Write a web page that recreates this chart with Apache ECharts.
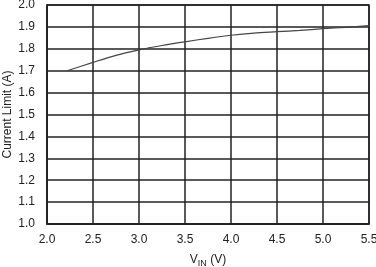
<!DOCTYPE html>
<html>
<head>
<meta charset="utf-8">
<script src="https://cdn.jsdelivr.net/npm/echarts@6/dist/echarts.min.js"></script>
<style>html,body{margin:0;padding:0;background:#fff}#c{width:376px;height:267px}</style>
</head>
<body>
<div id="c"></div>
<script>
var vin = [2.22, 2.5, 2.75, 3.0, 3.25, 3.5, 3.75, 4.0, 4.25, 4.5, 4.75, 5.0, 5.25, 5.5];
var currentLimit = [1.700, 1.738, 1.770, 1.795, 1.815, 1.832, 1.848, 1.862, 1.872, 1.878, 1.884, 1.892, 1.898, 1.906];
var xTicks = [2.0, 2.5, 3.0, 3.5, 4.0, 4.5, 5.0, 5.5];
var yTicks = [1.0, 1.1, 1.2, 1.3, 1.4, 1.5, 1.6, 1.7, 1.8, 1.9, 2.0];

var chart = echarts.init(document.getElementById('c'), null, {renderer: 'canvas'});
var font = 'Liberation Sans, Arial, sans-serif';
chart.setOption({
  animation: false,
  grid: {left: 47, right: 7, top: 5, bottom: 43, containLabel: false, outerBoundsMode: 'none', show: true, borderColor: '#222', borderWidth: 1.5},
  xAxis: {
    type: 'value', min: xTicks[0], max: xTicks[xTicks.length - 1], interval: 0.5,
    name: '{v|V}{s|IN}{v| (V)}', nameLocation: 'middle', nameGap: 28, nameMoveOverlap: false,
    nameTextStyle: {rich: {v: {fontFamily: font, fontSize: 12, color: '#222'}, s: {fontFamily: font, fontSize: 9, color: '#222', verticalAlign: 'bottom', padding: [7, 0, 0, 0]}}},
    axisLine: {show: true, lineStyle: {color: '#222', width: 1.5}},
    axisTick: {show: false},
    axisLabel: {margin: 10, fontFamily: font, fontSize: 12, color: '#222', formatter: function (v) { return v.toFixed(1); }},
    splitLine: {show: true, lineStyle: {color: '#222', width: 1.5}}
  },
  yAxis: {
    type: 'value', min: yTicks[0], max: yTicks[yTicks.length - 1], interval: 0.1,
    name: 'Current Limit (A)', nameLocation: 'middle', nameGap: 33, nameRotate: 90, nameMoveOverlap: false,
    nameTextStyle: {fontFamily: font, fontSize: 12, color: '#222'},
    axisLine: {show: true, lineStyle: {color: '#222', width: 1.5}},
    axisTick: {show: false},
    axisLabel: {margin: 12, fontFamily: font, fontSize: 12, color: '#222', formatter: function (v) { return v.toFixed(1); }},
    splitLine: {show: true, lineStyle: {color: '#222', width: 1.5}}
  },
  series: [{
    type: 'line', data: vin.map(function (x, i) { return [x, currentLimit[i]]; }),
    smooth: 0.3, showSymbol: false, lineStyle: {color: '#444', width: 1.2}
  }]
});
</script>
</body>
</html>
